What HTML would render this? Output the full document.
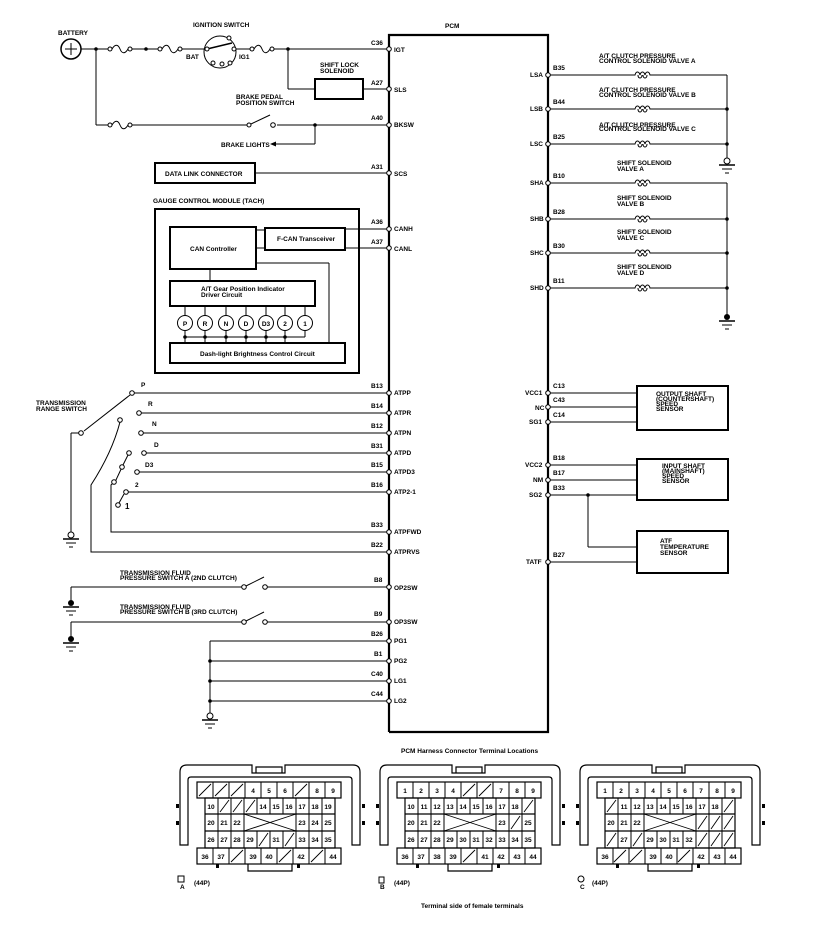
<!DOCTYPE html>
<html><head><meta charset="utf-8"><style>
html,body{margin:0;padding:0;background:#fff;}
svg{display:block;}
text{font-family:"Liberation Sans",sans-serif;font-weight:bold;font-size:6.5px;fill:#000;}
.n{font-size:7px;text-anchor:middle;}
</style></head><body>
<svg width="832" height="926" viewBox="0 0 832 926" xmlns="http://www.w3.org/2000/svg">
<defs>
<g id="fuse"><circle cx="2" cy="0" r="2" fill="#fff" stroke="#000" stroke-width="1"/><path d="M4,0 C7,-5 10,-5 12,0 C14,5 17,5 20,0" fill="none" stroke="#000"/><circle cx="22" cy="0" r="2" fill="#fff" stroke="#000"/></g>
<g id="coil"><path d="M0,0 L3,0 C4,-4 7,-4 8,0 C9,-4 12,-4 13,0 C14,-4 17,-4 18,0 L21,0" fill="none" stroke="#000"/><path d="M6,0 C6,4 10,4 10,0 M11,0 C11,4 15,4 15,0" fill="none" stroke="#000"/></g>
<g id="pin"><circle r="2.3" fill="#fff" stroke="#000" stroke-width="1"/></g>
<g id="gnd"><circle cx="0" cy="0" r="3" fill="#fff" stroke="#000"/><line x1="-8" y1="4" x2="8" y2="4" stroke="#000" stroke-width="1.5"/><line x1="-5" y1="8" x2="5" y2="8" stroke="#000"/><line x1="-2" y1="12" x2="2" y2="12" stroke="#000"/></g>
<g id="gndf"><circle cx="0" cy="0" r="3" fill="#000"/><line x1="-8" y1="4" x2="8" y2="4" stroke="#000" stroke-width="1.5"/><line x1="-5" y1="8" x2="5" y2="8" stroke="#000"/><line x1="-2" y1="12" x2="2" y2="12" stroke="#000"/></g>
</defs>

<g stroke="#000" fill="none" stroke-width="1">
<path d="M389,732 L389,35 L548,35 L548,732 L389,732" stroke-width="2.2"/>

<circle cx="71" cy="49" r="10" stroke-width="1.5"/>
<line x1="65" y1="49" x2="77" y2="49"/><line x1="71" y1="43" x2="71" y2="55"/>
<line x1="81" y1="49" x2="108" y2="49"/>
<line x1="132" y1="49" x2="158" y2="49"/>
<line x1="182" y1="49" x2="204" y2="49"/>
<circle cx="220" cy="52" r="16"/>
<line x1="207" y1="49" x2="232" y2="43" stroke-width="1.5"/>
<line x1="236" y1="49" x2="250" y2="49"/>
<line x1="274" y1="49" x2="389" y2="49"/>
<line x1="288" y1="49" x2="288" y2="89"/><line x1="288" y1="89" x2="315" y2="89"/>
<rect x="315" y="79" width="48" height="20" stroke-width="2"/>
<line x1="363" y1="89" x2="389" y2="89"/>
<line x1="96" y1="49" x2="96" y2="125"/>
<line x1="96" y1="125" x2="108" y2="125"/>
<line x1="132" y1="125" x2="247" y2="125"/>
<line x1="251" y1="124" x2="270" y2="115"/>
<line x1="277" y1="125" x2="389" y2="125"/>
<line x1="315" y1="125" x2="315" y2="144"/><line x1="315" y1="144" x2="275" y2="144"/>

<rect x="155" y="163" width="100" height="20" stroke-width="2"/>
<line x1="255" y1="173" x2="389" y2="173"/>

<rect x="155" y="209" width="204" height="164" stroke-width="2"/>
<rect x="170" y="227" width="86" height="42" stroke-width="2"/>
<rect x="265" y="228" width="80" height="22" stroke-width="2"/>
<line x1="256" y1="230" x2="265" y2="230"/><line x1="256" y1="248" x2="265" y2="248"/>
<line x1="345" y1="229" x2="389" y2="229"/><line x1="345" y1="248" x2="389" y2="248"/>
<line x1="256" y1="263" x2="329" y2="263"/><line x1="329" y1="263" x2="329" y2="343"/>
<line x1="210" y1="269" x2="210" y2="281"/>
<rect x="170" y="281" width="145" height="25" stroke-width="2"/>
<rect x="170" y="343" width="175" height="20" stroke-width="2"/>
<line x1="185" y1="337" x2="305" y2="337"/>
<g>
<line x1="185" y1="306" x2="185" y2="343"/><line x1="205" y1="306" x2="205" y2="343"/><line x1="226" y1="306" x2="226" y2="343"/><line x1="246" y1="306" x2="246" y2="343"/><line x1="266" y1="306" x2="266" y2="343"/><line x1="285" y1="306" x2="285" y2="343"/><line x1="305" y1="306" x2="305" y2="337"/>
</g>
<g fill="#fff">
<circle cx="185" cy="323" r="7.5"/><circle cx="205" cy="323" r="7.5"/><circle cx="226" cy="323" r="7.5"/><circle cx="246" cy="323" r="7.5"/><circle cx="266" cy="323" r="7.5"/><circle cx="285" cy="323" r="7.5"/><circle cx="305" cy="323" r="7.5"/>
</g>

<line x1="132" y1="393" x2="389" y2="393"/>
<line x1="139" y1="413" x2="389" y2="413"/>
<line x1="141" y1="433" x2="389" y2="433"/>
<line x1="144" y1="453" x2="389" y2="453"/>
<line x1="137" y1="472" x2="389" y2="472"/>
<line x1="126" y1="492" x2="389" y2="492"/>
<line x1="84" y1="431" x2="130" y2="395"/>
<line x1="71" y1="433" x2="79" y2="433"/><line x1="71" y1="433" x2="71" y2="532"/>
<path d="M120,422 C114,445 104,465 91,485 L91,552 L389,552"/>
<path d="M128,455 L123,465 L116,480 L111,485 L111,532 L389,532"/>
<line x1="124" y1="494" x2="119" y2="503"/>

<line x1="71" y1="587" x2="243" y2="587"/><line x1="246" y1="586" x2="264" y2="577"/><line x1="266" y1="587" x2="389" y2="587"/>
<line x1="71" y1="587" x2="71" y2="601"/>
<line x1="71" y1="622" x2="243" y2="622"/><line x1="246" y1="621" x2="264" y2="612"/><line x1="266" y1="622" x2="389" y2="622"/>
<line x1="71" y1="622" x2="71" y2="637"/>

<line x1="210" y1="641" x2="389" y2="641"/>
<line x1="210" y1="661" x2="389" y2="661"/>
<line x1="210" y1="681" x2="389" y2="681"/>
<line x1="210" y1="701" x2="389" y2="701"/>
<line x1="210" y1="641" x2="210" y2="713"/>

<line x1="548" y1="75" x2="632" y2="75"/><line x1="653" y1="75" x2="727" y2="75"/>
<line x1="548" y1="109" x2="632" y2="109"/><line x1="653" y1="109" x2="727" y2="109"/>
<line x1="548" y1="144" x2="632" y2="144"/><line x1="653" y1="144" x2="727" y2="144"/>
<line x1="727" y1="75" x2="727" y2="158"/>
<line x1="548" y1="183" x2="632" y2="183"/><line x1="653" y1="183" x2="727" y2="183"/>
<line x1="548" y1="219" x2="632" y2="219"/><line x1="653" y1="219" x2="727" y2="219"/>
<line x1="548" y1="253" x2="632" y2="253"/><line x1="653" y1="253" x2="727" y2="253"/>
<line x1="548" y1="288" x2="632" y2="288"/><line x1="653" y1="288" x2="727" y2="288"/>
<line x1="727" y1="183" x2="727" y2="315"/>

<rect x="637" y="386" width="91" height="44" stroke-width="2"/>
<line x1="548" y1="393" x2="637" y2="393"/><line x1="548" y1="407" x2="637" y2="407"/><line x1="548" y1="422" x2="637" y2="422"/>
<rect x="637" y="459" width="91" height="41" stroke-width="2"/>
<line x1="548" y1="465" x2="637" y2="465"/><line x1="548" y1="480" x2="637" y2="480"/><line x1="548" y1="495" x2="637" y2="495"/>
<rect x="637" y="531" width="91" height="42" stroke-width="2"/>
<line x1="588" y1="495" x2="588" y2="547"/><line x1="588" y1="547" x2="637" y2="547"/>
<line x1="548" y1="562" x2="637" y2="562"/>
</g>

<use href="#fuse" x="108" y="49"/><use href="#fuse" x="158" y="49"/><use href="#fuse" x="250" y="49"/><use href="#fuse" x="108" y="125"/>
<use href="#coil" x="632" y="75"/><use href="#coil" x="632" y="109"/><use href="#coil" x="632" y="144"/>
<use href="#coil" x="632" y="183"/><use href="#coil" x="632" y="219"/><use href="#coil" x="632" y="253"/><use href="#coil" x="632" y="288"/>

<g fill="#fff" stroke="#000">
<circle cx="207" cy="49" r="2"/><circle cx="234" cy="49" r="2"/><circle cx="229" cy="38" r="2"/><circle cx="213" cy="63" r="2"/><circle cx="222" cy="64" r="2"/><circle cx="230" cy="63" r="2"/>
<circle cx="249" cy="125" r="2"/><circle cx="273" cy="125" r="2.3"/>
<circle cx="132" cy="393" r="2.3"/><circle cx="139" cy="413" r="2.3"/><circle cx="141" cy="433" r="2.3"/><circle cx="144" cy="453" r="2.3"/><circle cx="137" cy="472" r="2.3"/><circle cx="126" cy="492" r="2.3"/>
<circle cx="81" cy="433" r="2.3"/><circle cx="120" cy="420" r="2.3"/><circle cx="129" cy="453" r="2.3"/><circle cx="122" cy="467" r="2.3"/><circle cx="114" cy="482" r="2.3"/><circle cx="118" cy="505" r="2.3"/>
<circle cx="244" cy="587" r="2.3"/><circle cx="265" cy="587" r="2.3"/><circle cx="244" cy="622" r="2.3"/><circle cx="265" cy="622" r="2.3"/>
</g>
<g fill="#000">
<circle cx="96" cy="49" r="1.8"/><circle cx="146" cy="49" r="1.8"/><circle cx="288" cy="49" r="1.8"/><circle cx="315" cy="125" r="1.8"/>
<circle cx="185" cy="337" r="1.8"/><circle cx="205" cy="337" r="1.8"/><circle cx="226" cy="337" r="1.8"/><circle cx="246" cy="337" r="1.8"/><circle cx="266" cy="337" r="1.8"/><circle cx="285" cy="337" r="1.8"/>
<circle cx="210" cy="661" r="1.8"/><circle cx="210" cy="681" r="1.8"/><circle cx="210" cy="701" r="1.8"/>
<circle cx="727" cy="109" r="1.8"/><circle cx="727" cy="144" r="1.8"/><circle cx="727" cy="219" r="1.8"/><circle cx="727" cy="253" r="1.8"/><circle cx="727" cy="288" r="1.8"/>
<circle cx="588" cy="495" r="1.8"/>
<path d="M270,144 L276,141.5 L276,146.5Z"/>
</g>
<use href="#gnd" x="727" y="161"/><use href="#gndf" x="727" y="317"/>
<use href="#gnd" x="71" y="535"/><use href="#gndf" x="71" y="603"/><use href="#gndf" x="71" y="639"/><use href="#gnd" x="210" y="716"/>

<g>
<use href="#pin" x="389" y="49"/><use href="#pin" x="389" y="89"/><use href="#pin" x="389" y="125"/><use href="#pin" x="389" y="173"/><use href="#pin" x="389" y="229"/><use href="#pin" x="389" y="248"/>
<use href="#pin" x="389" y="393"/><use href="#pin" x="389" y="413"/><use href="#pin" x="389" y="433"/><use href="#pin" x="389" y="453"/><use href="#pin" x="389" y="472"/><use href="#pin" x="389" y="492"/><use href="#pin" x="389" y="532"/><use href="#pin" x="389" y="552"/>
<use href="#pin" x="389" y="587"/><use href="#pin" x="389" y="622"/><use href="#pin" x="389" y="641"/><use href="#pin" x="389" y="661"/><use href="#pin" x="389" y="681"/><use href="#pin" x="389" y="701"/>
<use href="#pin" x="548" y="75"/><use href="#pin" x="548" y="109"/><use href="#pin" x="548" y="144"/><use href="#pin" x="548" y="183"/><use href="#pin" x="548" y="219"/><use href="#pin" x="548" y="253"/><use href="#pin" x="548" y="288"/>
<use href="#pin" x="548" y="393"/><use href="#pin" x="548" y="407"/><use href="#pin" x="548" y="422"/><use href="#pin" x="548" y="465"/><use href="#pin" x="548" y="480"/><use href="#pin" x="548" y="495"/><use href="#pin" x="548" y="562"/>
</g>

<text x="58" y="35">BATTERY</text>
<text x="193" y="27">IGNITION SWITCH</text>
<text x="186" y="59">BAT</text><text x="239" y="59">IG1</text>
<text x="320" y="67">SHIFT LOCK</text><text x="320" y="73">SOLENOID</text>
<text x="236" y="99">BRAKE PEDAL</text><text x="236" y="105">POSITION SWITCH</text>
<text x="221" y="147">BRAKE LIGHTS</text>
<text x="165" y="176">DATA LINK CONNECTOR</text>
<text x="153" y="203">GAUGE CONTROL MODULE (TACH)</text>
<text x="190" y="251">CAN Controller</text>
<text x="277" y="241">F-CAN Transceiver</text>
<text x="201" y="291">A/T Gear Position Indicator</text><text x="201" y="297">Driver Circuit</text>
<text x="200" y="356">Dash-light Brightness Control Circuit</text>
<g class="n"><text x="185" y="326">P</text><text x="205" y="326">R</text><text x="226" y="326">N</text><text x="246" y="326">D</text><text x="266" y="326">D3</text><text x="285" y="326">2</text><text x="305" y="326">1</text></g>
<text x="445" y="28">PCM</text>
<text x="371" y="45">C36</text><text x="394" y="52">IGT</text>
<text x="371" y="85">A27</text><text x="394" y="92">SLS</text>
<text x="371" y="120">A40</text><text x="394" y="127">BKSW</text>
<text x="371" y="169">A31</text><text x="394" y="176">SCS</text>
<text x="371" y="224">A36</text><text x="394" y="231">CANH</text>
<text x="371" y="244">A37</text><text x="394" y="251">CANL</text>
<text x="36" y="405">TRANSMISSION</text><text x="36" y="411">RANGE SWITCH</text>
<text x="141" y="387">P</text><text x="148" y="406">R</text><text x="152" y="426">N</text><text x="154" y="447">D</text><text x="145" y="467">D3</text><text x="135" y="487">2</text><text x="125" y="509" style="font-size:8px">1</text>
<text x="371" y="388">B13</text><text x="394" y="395">ATPP</text>
<text x="371" y="408">B14</text><text x="394" y="415">ATPR</text>
<text x="371" y="428">B12</text><text x="394" y="435">ATPN</text>
<text x="371" y="448">B31</text><text x="394" y="455">ATPD</text>
<text x="371" y="467">B15</text><text x="394" y="474">ATPD3</text>
<text x="371" y="487">B16</text><text x="394" y="494">ATP2-1</text>
<text x="371" y="527">B33</text><text x="394" y="534">ATPFWD</text>
<text x="371" y="547">B22</text><text x="394" y="554">ATPRVS</text>
<text x="120" y="575">TRANSMISSION FLUID</text><text x="120" y="580">PRESSURE SWITCH A (2ND CLUTCH)</text>
<text x="120" y="609">TRANSMISSION FLUID</text><text x="120" y="614">PRESSURE SWITCH B (3RD CLUTCH)</text>
<text x="374" y="582">B8</text><text x="394" y="590">OP2SW</text>
<text x="374" y="616">B9</text><text x="394" y="624">OP3SW</text>
<text x="371" y="636">B26</text><text x="394" y="643">PG1</text>
<text x="374" y="656">B1</text><text x="394" y="663">PG2</text>
<text x="371" y="676">C40</text><text x="394" y="683">LG1</text>
<text x="371" y="696">C44</text><text x="394" y="703">LG2</text>
<text x="599" y="58">A/T CLUTCH PRESSURE</text><text x="599" y="63">CONTROL SOLENOID VALVE A</text>
<text x="599" y="92">A/T CLUTCH PRESSURE</text><text x="599" y="97">CONTROL SOLENOID VALVE B</text>
<text x="599" y="127">A/T CLUTCH PRESSURE</text><text x="599" y="131">CONTROL SOLENOID VALVE C</text>
<text x="617" y="165">SHIFT SOLENOID</text><text x="617" y="171">VALVE A</text>
<text x="617" y="200">SHIFT SOLENOID</text><text x="617" y="206">VALVE B</text>
<text x="617" y="234">SHIFT SOLENOID</text><text x="617" y="240">VALVE C</text>
<text x="617" y="269">SHIFT SOLENOID</text><text x="617" y="275">VALVE D</text>
<text x="530" y="77">LSA</text><text x="553" y="70">B35</text>
<text x="530" y="111">LSB</text><text x="553" y="104">B44</text>
<text x="530" y="146">LSC</text><text x="553" y="139">B25</text>
<text x="530" y="185">SHA</text><text x="553" y="178">B10</text>
<text x="530" y="221">SHB</text><text x="553" y="214">B28</text>
<text x="530" y="255">SHC</text><text x="553" y="248">B30</text>
<text x="530" y="290">SHD</text><text x="553" y="283">B11</text>
<text x="525" y="395">VCC1</text><text x="553" y="388">C13</text>
<text x="535" y="410">NC</text><text x="553" y="402">C43</text>
<text x="529" y="424">SG1</text><text x="553" y="417">C14</text>
<text x="525" y="467">VCC2</text><text x="553" y="460">B18</text>
<text x="533" y="482">NM</text><text x="553" y="475">B17</text>
<text x="529" y="497">SG2</text><text x="553" y="490">B33</text>
<text x="526" y="564">TATF</text><text x="553" y="557">B27</text>
<text x="656" y="396">OUTPUT SHAFT</text><text x="656" y="401">(COUNTERSHAFT)</text><text x="656" y="406">SPEED</text><text x="656" y="411">SENSOR</text>
<text x="662" y="468">INPUT SHAFT</text><text x="662" y="473">(MAINSHAFT)</text><text x="662" y="478">SPEED</text><text x="662" y="483">SENSOR</text>
<text x="660" y="543">ATF</text><text x="660" y="549">TEMPERATURE</text><text x="660" y="555">SENSOR</text>

<text x="401" y="753">PCM Harness Connector Terminal Locations</text>
<text x="421" y="908">Terminal side of female terminals</text>

<g id="shell">
<g fill="none" stroke="#000" stroke-width="1.2">
<path d="M180,845 L180,772 Q180,765 187,765 L252,765 L252,773 L285,773 L285,765 L353,765 Q360,765 360,772 L360,845 L352,845 L352,780 Q352,777 349,777 L191,777 Q188,777 188,780 L188,845 Z"/>
<rect x="197" y="782" width="144" height="16"/>
<rect x="205" y="798" width="130" height="50"/>
<line x1="205" y1="814" x2="335" y2="814"/><line x1="205" y1="831" x2="335" y2="831"/>
<rect x="197" y="848" width="144" height="16"/>
<path d="M248,864 L248,871 L292,871 L292,864"/>
<path d="M256,773 L256,767 L282,767 L282,773"/>
</g>
<g fill="#000"><rect x="176" y="804" width="3" height="4"/><rect x="176" y="821" width="3" height="4"/><rect x="362" y="804" width="3" height="4"/><rect x="362" y="821" width="3" height="4"/><rect x="216" y="864" width="3" height="4"/><rect x="297" y="864" width="3" height="4"/></g>
</g>
<use href="#shell" x="200"/><use href="#shell" x="400"/>

<g id="grid" stroke="#000" stroke-width="1" fill="none">
<path d="M213,782V798M229,782V798M245,782V798M261,782V798M277,782V798M293,782V798M309,782V798M325,782V798
M218,798V848M231,798V848M244,798V848M296,798V848M309,798V848M322,798V848
M257,798V814M270,798V814M283,798V814M257,831V848M270,831V848M283,831V848
M213,848V864M229,848V864M245,848V864M261,848V864M277,848V864M293,848V864M309,848V864M325,848V864"/>
</g>
<use href="#grid" x="200"/><use href="#grid" x="400"/>

<g stroke="#000" stroke-width="0.9">
<path d="M244,814L296,831M244,831L296,814"/>
<path d="M199,796L211,784M215,796L227,784M231,796L243,784M295,796L307,784
M220,812L229,800M233,812L242,800M246,812L255,800
M259,846L268,833M285,846L294,833
M231,862L243,850M279,862L291,850M311,862L323,850"/>
<path d="M444,814L496,831M444,831L496,814"/>
<path d="M463,796L475,784M479,796L491,784
M524,812L533,800M511,829L520,816
M463,862L475,850"/>
<path d="M644,814L696,831M644,831L696,814"/>
<path d="M607,812L616,800M724,812L733,800
M698,829L707,816M711,829L720,816M724,829L733,816
M607,846L616,833M633,846L642,833M698,846L707,833M711,846L720,833M724,846L733,833
M614,862L626,850M630,862L642,850M678,862L690,850"/>
</g>

<g class="n">
<text x="253" y="793">4</text><text x="269" y="793">5</text><text x="285" y="793">6</text><text x="317" y="793">8</text><text x="333" y="793">9</text>
<text x="211" y="809">10</text><text x="263" y="809">14</text><text x="276" y="809">15</text><text x="289" y="809">16</text><text x="302" y="809">17</text><text x="315" y="809">18</text><text x="328" y="809">19</text>
<text x="211" y="825">20</text><text x="224" y="825">21</text><text x="237" y="825">22</text><text x="302" y="825">23</text><text x="315" y="825">24</text><text x="328" y="825">25</text>
<text x="211" y="842">26</text><text x="224" y="842">27</text><text x="237" y="842">28</text><text x="250" y="842">29</text><text x="276" y="842">31</text><text x="302" y="842">33</text><text x="315" y="842">34</text><text x="328" y="842">35</text>
<text x="205" y="859">36</text><text x="221" y="859">37</text><text x="253" y="859">39</text><text x="269" y="859">40</text><text x="301" y="859">42</text><text x="333" y="859">44</text>
<text x="405" y="793">1</text><text x="421" y="793">2</text><text x="437" y="793">3</text><text x="453" y="793">4</text><text x="501" y="793">7</text><text x="517" y="793">8</text><text x="533" y="793">9</text>
<text x="411" y="809">10</text><text x="424" y="809">11</text><text x="437" y="809">12</text><text x="450" y="809">13</text><text x="463" y="809">14</text><text x="476" y="809">15</text><text x="489" y="809">16</text><text x="502" y="809">17</text><text x="515" y="809">18</text>
<text x="411" y="825">20</text><text x="424" y="825">21</text><text x="437" y="825">22</text><text x="502" y="825">23</text><text x="528" y="825">25</text>
<text x="411" y="842">26</text><text x="424" y="842">27</text><text x="437" y="842">28</text><text x="450" y="842">29</text><text x="463" y="842">30</text><text x="476" y="842">31</text><text x="489" y="842">32</text><text x="502" y="842">33</text><text x="515" y="842">34</text><text x="528" y="842">35</text>
<text x="405" y="859">36</text><text x="421" y="859">37</text><text x="437" y="859">38</text><text x="453" y="859">39</text><text x="485" y="859">41</text><text x="501" y="859">42</text><text x="517" y="859">43</text><text x="533" y="859">44</text>
<text x="605" y="793">1</text><text x="621" y="793">2</text><text x="637" y="793">3</text><text x="653" y="793">4</text><text x="669" y="793">5</text><text x="685" y="793">6</text><text x="701" y="793">7</text><text x="717" y="793">8</text><text x="733" y="793">9</text>
<text x="624" y="809">11</text><text x="637" y="809">12</text><text x="650" y="809">13</text><text x="663" y="809">14</text><text x="676" y="809">15</text><text x="689" y="809">16</text><text x="702" y="809">17</text><text x="715" y="809">18</text>
<text x="611" y="825">20</text><text x="624" y="825">21</text><text x="637" y="825">22</text>
<text x="624" y="842">27</text><text x="650" y="842">29</text><text x="663" y="842">30</text><text x="676" y="842">31</text><text x="689" y="842">32</text>
<text x="605" y="859">36</text><text x="653" y="859">39</text><text x="669" y="859">40</text><text x="701" y="859">42</text><text x="717" y="859">43</text><text x="733" y="859">44</text>
</g>
<g fill="none" stroke="#000"><rect x="178" y="876" width="6" height="6"/><rect x="379" y="877" width="5" height="6"/><circle cx="581" cy="879" r="3"/></g>
<text x="180" y="889">A</text><text x="194" y="885">(44P)</text>
<text x="380" y="889">B</text><text x="394" y="885">(44P)</text>
<text x="580" y="889">C</text><text x="592" y="885">(44P)</text>
</svg>
</body></html>
